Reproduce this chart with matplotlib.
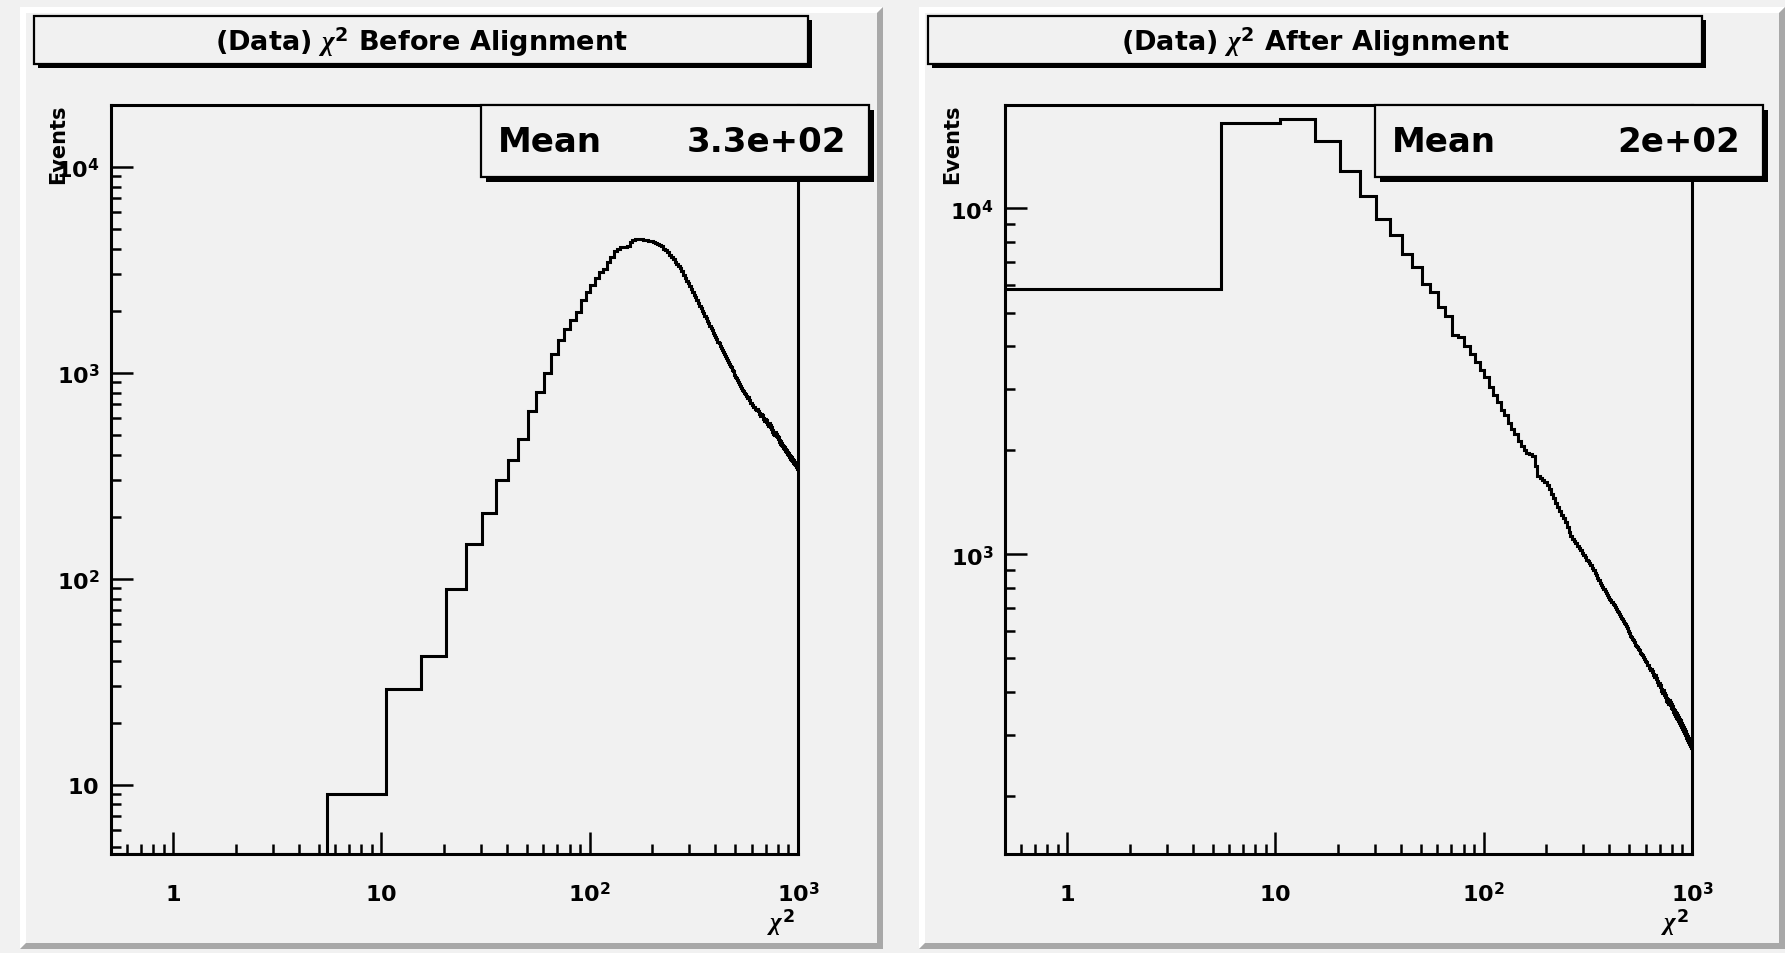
import numpy as np
import matplotlib
matplotlib.use("Agg")
import matplotlib.pyplot as plt
from matplotlib.patches import Rectangle, Polygon
from matplotlib.ticker import FixedLocator, LogLocator, NullFormatter

# --- data: chi2 histograms, 200 bins of width 5 starting at 0.5 ---
bin_lo = 0.5
bin_width = 5.0
n_bins = 200

before_counts = [
    0, 9, 29, 42, 89, 147, 209, 301, 376, 475,
    649, 802, 990, 1230, 1440, 1627, 1805, 1960, 2250, 2450,
    2670, 2865, 3065, 3175, 3425, 3650, 3875, 3990, 4050, 4090,
    4110, 4290, 4420, 4450, 4460, 4440, 4420, 4400, 4370, 4330,
    4300, 4250, 4200, 4160, 4100, 4000, 3920, 3850, 3720, 3640,
    3560, 3450, 3360, 3280, 3200, 3100, 2980, 2880, 2790, 2710,
    2630, 2545, 2470, 2380, 2320, 2240, 2180, 2110, 2060, 1990,
    1940, 1880, 1835, 1780, 1740, 1690, 1645, 1606, 1560, 1526,
    1485, 1452, 1414, 1384, 1346, 1320, 1286, 1262, 1228, 1205,
    1175, 1153, 1124, 1104, 1076, 1059, 1033, 1016, 990, 976,
    952, 938, 915, 902, 880, 862, 846, 837, 820, 814,
    797, 791, 775, 769, 752, 760, 733, 730, 712, 711,
    694, 696, 680, 684, 666, 673, 655, 664, 642, 650,
    630, 640, 618, 629, 606, 621, 596, 611, 585, 596,
    570, 590, 560, 578, 548, 566, 540, 555, 526, 545,
    515, 530, 505, 518, 498, 512, 488, 501, 480, 494,
    470, 488, 462, 478, 452, 470, 446, 462, 438, 452,
    432, 446, 424, 438, 416, 430, 410, 424, 402, 418,
    396, 410, 390, 404, 382, 398, 376, 392, 370, 386,
    365, 380, 360, 374, 354, 368, 348, 362, 342, 356,
]

after_counts = [
    5850, 17630, 18140, 15640, 12850, 10860, 9290, 8350, 7360, 6770,
    6050, 5750, 5180, 4880, 4310, 4245, 4000, 3800, 3600, 3420,
    3250, 3050, 2880, 2750, 2620, 2520, 2400, 2300, 2220, 2130,
    2060, 2000, 1960, 1950, 1930, 1800, 1680, 1660, 1640, 1620,
    1590, 1540, 1490, 1450, 1410, 1370, 1330, 1300, 1270, 1240,
    1200, 1160, 1130, 1110, 1090, 1075, 1060, 1045, 1030, 1010,
    995, 980, 965, 955, 942, 930, 915, 900, 885, 870,
    855, 840, 825, 815, 805, 795, 785, 775, 765, 755,
    745, 738, 730, 720, 712, 703, 695, 687, 679, 671,
    664, 656, 648, 641, 634, 627, 620, 613, 606, 599,
    592, 581, 575, 570, 564, 559, 553, 548, 543, 538,
    533, 528, 524, 519, 514, 510, 505, 501, 497, 493,
    489, 485, 478, 480, 470, 472, 462, 465, 455, 459,
    448, 454, 441, 447, 434, 440, 426, 432, 418, 425,
    411, 418, 403, 410, 396, 404, 390, 398, 383, 392,
    377, 386, 374, 383, 368, 379, 364, 374, 358, 369,
    354, 365, 350, 360, 345, 356, 341, 353, 337, 349,
    333, 345, 329, 340, 325, 336, 321, 333, 317, 328,
    313, 324, 309, 319, 304, 314, 300, 310, 295, 305,
    291, 300, 287, 296, 283, 292, 280, 289, 276, 285,
]

titles = ["(Data) $\\chi^{2}$ Before Alignment", "(Data) $\\chi^{2}$ After Alignment"]
mean_values = ["3.3e+02", "2e+02"]

x_ticks = [1, 10, 100, 1000]
x_tick_labels = ["$1$", "$10$", "$10^{2}$", "$10^{3}$"]
y_ticks = [[10, 100, 1000, 10000], [1000, 10000]]
y_tick_labels = [["$10$", "$10^{2}$", "$10^{3}$", "$10^{4}$"], ["$10^{3}$", "$10^{4}$"]]
y_limits = [(4.6, 1.99e4), (136, 1.99e4)]

# --- style (ROOT-like) ---
PAD = "#f1f1f1"
plt.rcParams["font.family"] = ["DejaVu Sans"]
plt.rcParams["font.weight"] = "bold"
plt.rcParams["mathtext.fontset"] = "custom"
plt.rcParams["mathtext.rm"] = "DejaVu Sans:bold"
plt.rcParams["mathtext.bf"] = "DejaVu Sans:bold"
plt.rcParams["mathtext.it"] = "Liberation Serif:italic"

W, H = 1785, 954
fig = plt.figure(figsize=(W / 100, H / 100), dpi=100, facecolor=PAD)

# pixel-space helper axes: background (pads) and overlay (boxes, labels)
bg = fig.add_axes([0, 0, 1, 1], zorder=-10)
bg.set_xlim(0, W); bg.set_ylim(H, 0); bg.axis("off")
ov = fig.add_axes([0, 0, 1, 1], zorder=10)
ov.set_xlim(0, W); ov.set_ylim(H, 0); ov.axis("off")


def bevel(a, x0, y0, x1, y1, bw=6):
    a.add_patch(Rectangle((x0, y0), x1 - x0, y1 - y0, facecolor=PAD, edgecolor="none"))
    a.add_patch(Polygon([(x0, y0), (x1, y0), (x1 - bw, y0 + bw), (x0 + bw, y0 + bw),
                         (x0 + bw, y1 - bw), (x0, y1)], closed=True,
                        facecolor="white", edgecolor="none"))
    a.add_patch(Polygon([(x1, y0), (x1, y1), (x0, y1), (x0 + bw, y1 - bw),
                         (x1 - bw, y1 - bw), (x1 - bw, y0 + bw)], closed=True,
                        facecolor="#a8a8a8", edgecolor="none"))


def shadow_box(a, x0, y0, x1, y1, s=4):
    a.add_patch(Rectangle((x0 + s, y0 + s), x1 - x0, y1 - y0, facecolor="black", edgecolor="none"))
    a.add_patch(Rectangle((x0, y0), x1 - x0, y1 - y0, facecolor=PAD, edgecolor="black", linewidth=1.6))


edges = bin_lo + bin_width * np.arange(n_bins + 1)
pad_boxes = [(20, 8, 883, 950), (919, 8, 1785, 950)]

for i, counts in enumerate([before_counts, after_counts]):
    dx = 894 * i
    bevel(bg, *pad_boxes[i])

    x0, x1, y0, y1 = 110.5 + dx, 798 + dx, 106, 855
    ax = fig.add_axes([x0 / W, 1 - y1 / H, (x1 - x0) / W, (y1 - y0) / H])
    ax.set_facecolor("none")
    ax.set_xscale("log")
    ax.set_yscale("log")
    ymin, ymax = y_limits[i]
    ax.stairs(np.maximum(np.array(counts, dtype=float), ymin), edges,
              color="black", linewidth=2.2, baseline=None)
    ax.set_xlim(bin_lo, edges[-1])
    ax.set_ylim(ymin, ymax)

    ax.xaxis.set_major_locator(FixedLocator(x_ticks))
    ax.set_xticks(x_ticks, labels=x_tick_labels)
    ax.set_yticks(y_ticks[i], labels=y_tick_labels[i])
    for axis in (ax.xaxis, ax.yaxis):
        axis.set_minor_locator(LogLocator(base=10, subs=np.arange(2, 10), numticks=50))
        axis.set_minor_formatter(NullFormatter())
    ax.tick_params(which="both", direction="in", top=False, right=False,
                   width=1.8, colors="black")
    ax.tick_params(which="major", length=15.5, labelsize=16)
    ax.tick_params(which="minor", length=7)
    ax.tick_params(axis="x", pad=33)
    ax.tick_params(axis="y", pad=8)
    for lab in ax.get_xticklabels():
        lab.set_verticalalignment("baseline")
    for sp in ax.spines.values():
        sp.set_linewidth(2.2)

    # axis titles
    fig.text((58 + dx) / W, 1 - 105 / H, "Events", rotation=90, ha="center", va="top",
             fontsize=15, fontweight="bold")
    ov.text(781 + dx, 923, "$\\chi^{2}$", ha="center", va="center", fontsize=18)

    # title box
    shadow_box(ov, 34 + dx, 17, 808 + dx, 65)
    ov.text(421 + dx, 42, titles[i], ha="center", va="center", fontsize=19.5)

    # stats box
    shadow_box(ov, 481 + dx, 106, 869 + dx, 178, s=5)
    ov.text(498 + dx, 143, "Mean", ha="left", va="center", fontsize=24.5)
    ov.text(846 + dx, 143, mean_values[i], ha="right", va="center", fontsize=24.5)

fig.savefig("out.png", dpi=100, facecolor=fig.get_facecolor())
